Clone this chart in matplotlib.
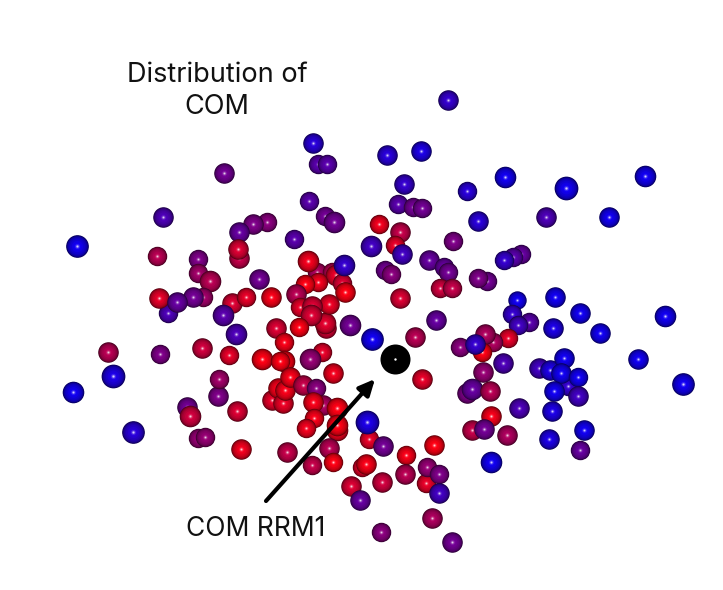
import numpy as np
import matplotlib
matplotlib.use("Agg")
import matplotlib.pyplot as plt
from matplotlib.colors import LinearSegmentedColormap

plt.rcParams['font.family'] = ['Inter', 'DejaVu Sans']

# bead positions (image-like units), listed back to front
bead_x = [448, 313, 387, 421, 318, 327, 224, 404, 467, 505, 566, 645,
          163, 309, 325, 334, 478, 546, 609, 77, 379, 398, 413, 422,
          400, 395, 267, 253, 239, 294, 239, 238, 157, 198, 198, 210, 259,
          385, 391, 371, 402, 453, 429, 444, 448, 521, 513, 504, 487, 478,
          440, 452, 317, 332, 336, 342, 308, 318, 345, 305, 344, 296,
          203, 193, 168, 159, 177, 232, 246, 223, 271, 236,
          326, 325, 329, 300, 312, 311, 299, 276, 350, 284,
          400, 436, 415, 372, 160, 202, 229, 262, 284, 280, 322, 310, 333,
          108, 113, 73, 133, 187, 190, 198, 205, 241, 237, 218, 219,
          272, 278, 283, 285, 290, 303, 316, 323, 313, 337, 314, 306, 337, 337,
          369, 367, 383, 329, 333, 287, 312, 406, 434, 362, 366, 351, 382, 405,
          426, 427, 439, 439, 360, 432, 381, 452, 422,
          529, 517, 512, 518, 555, 580, 600, 553, 508, 493, 485, 460, 482, 475,
          503, 483, 467, 472, 490, 519, 491, 472, 484, 507, 491,
          539, 550, 568, 564, 561, 578, 554, 578, 552, 584, 549, 580,
          638, 665, 683]
bead_y = [100, 143, 155, 151, 164, 164, 173, 184, 191, 177, 188, 176,
          217, 201, 216, 222, 221, 217, 217, 246, 224, 204, 207, 208,
          232, 245, 222, 224, 232, 239, 258, 249, 256, 259, 273, 281, 279,
          270, 274, 246, 254, 241, 260, 267, 272, 254, 257, 260, 281, 278,
          288, 288, 272, 272, 275, 283, 261, 282, 292, 284, 265, 294,
          297, 297, 313, 298, 302, 303, 297, 315, 297, 334,
          328, 323, 304, 307, 306, 315, 327, 328, 325, 342,
          298, 320, 337, 339, 354, 348, 355, 359, 361, 361, 352, 359, 373,
          352, 376, 392, 432, 407, 416, 438, 437, 449, 411, 396, 379,
          400, 388, 403, 390, 377, 385, 388, 405, 402, 430, 418, 428, 408, 425,
          439, 422, 446, 448, 462, 452, 465, 455, 445, 467, 464, 486, 482, 474,
          483, 467, 474, 493, 500, 518, 532, 542, 379,
          322, 300, 314, 325, 297, 313, 333, 328, 338, 342, 334, 347, 352, 344,
          363, 372, 393, 389, 391, 408, 416, 430, 429, 435, 462,
          368, 370, 386, 358, 373, 377, 391, 396, 411, 430, 439, 450,
          359, 316, 384]
# 0 = red end, 1 = blue end
bead_shade = [.85, .9, .9, .95, .7, .7, .6, .85, .9, 1, 1, 1,
              .75, .7, .6, .6, .9, .75, 1, 1, .05, .7, .6, .6,
              .25, .1, .5, .55, .65, .7, .25, .15, .3, .55, .4, .3, .6,
              .6, .5, .8, .8, .55, .65, .65, .6, .65, .7, .85, .6, .55,
              .2, .25, .35, .3, .1, .15, .05, .05, 0, 0, .85, .3,
              .4, .6, .75, .1, .65, .15, .1, .7, .02, .75,
              .15, .12, .08, .1, .15, .15, 0, .15, .6, .02,
              .15, .65, .3, 1, .55, .2, .1, 0, 0, 0, .1, .45, .05,
              .3, .95, 1, .9, .6, .2, .45, .45, .05, .15, .55, .4,
              .1, .03, .08, .03, .02, .25, .5, .35, .03, .05, .03, .05, 0, 0,
              .1, .95, .6, .3, 0, .25, .25, .02, 0, .1, .02, .15, .2, .3,
              .1, .45, .55, .8, .65, .35, .5, .6, .1,
              .7, 1, .85, .8, 1, 1, 1, .95, .1, .35, .35, .5, 0, .85,
              .75, .45, .55, .65, .3, .75, .03, .25, .6, .35, 1,
              .8, .95, .85, 1, 1, 1, 1, .8, .95, 1, .95, .65,
              1, 1, 1]
bead_radius = [9.5, 9.5, 9.5, 9.5, 9, 9, 9.5, 9.5, 9, 10, 11, 10,
               9.5, 9, 9, 10, 9.5, 9.5, 9.5, 10.5, 9, 9, 9, 9,
               9.5, 9, 9, 9.5, 9.5, 9, 9.5, 9.5, 9, 9, 9, 10, 9.5,
               9, 9, 10, 9.5, 9, 9.5, 9, 9, 9, 9, 9, 9, 9,
               9, 9, 9, 9, 10, 9, 10, 9, 9.5, 9, 10, 9.5,
               9, 9.5, 9, 9.5, 9.5, 9.5, 9, 10, 9.5, 10,
               9.5, 10, 9.5, 9, 9.5, 10, 9, 9.5, 10, 9,
               9.5, 9.5, 9.5, 10.5, 9, 9.5, 9, 10, 10, 9, 9, 10, 9.5,
               9.5, 11, 10, 10.5, 9.5, 10, 9, 9, 9.5, 9.5, 9.5, 9,
               9.5, 9.5, 9.5, 9.5, 9.5, 9.5, 9, 9.5, 9.5, 10, 9, 9, 10, 10,
               9, 11, 9.5, 9.5, 9, 9.5, 9, 9, 9.5, 9, 9.5, 9.5, 9.5, 9.5,
               9, 9, 9, 9.5, 9.5, 9.5, 9, 9.5, 9.5,
               9, 8.5, 9, 9, 9.5, 9.5, 9.5, 9.5, 9, 9, 9.5, 9, 9, 9.5,
               9.5, 9.5, 9.5, 10, 9.5, 9.5, 9.5, 9.5, 9.5, 9.5, 10,
               9.5, 9.5, 9, 9.5, 9.5, 9, 9.5, 9.5, 9.5, 9.5, 9.5, 9,
               9.5, 10, 10.5]

center_x = [395]
center_y = [359]
center_radius = 15

cmap = LinearSegmentedColormap.from_list(
    "bead", [(1.0, 0.0, 0.08), (0.55, 0.0, 0.5), (0.07, 0.0, 0.95)])


def draw_sphere(ax, x, y, radius, shade, z):
    color = np.array(cmap(float(shade))[:3])
    radius = radius * 1.08
    # soft dark rim into the full colour, then a small shine in the middle
    fracs = [1.0, 0.94, 0.87, 0.78, 0.66, 0.5, 0.34]
    gains = [0.38, 0.55, 0.68, 0.78, 0.86, 0.94, 1.0]
    for frac, gain in zip(fracs, gains):
        d = 2 * radius * frac * 0.72
        ax.scatter(x, y, s=d ** 2, color=[color * gain], linewidths=0, zorder=z)
    for frac, mix in [(0.22, 0.15), (0.13, 0.45), (0.07, 0.8)]:
        d = 2 * radius * frac * 0.72
        ax.scatter(x, y - 0.5, s=d ** 2, color=[color + (1 - color) * mix], linewidths=0, zorder=z)


fig = plt.figure(figsize=(7.23, 5.9), dpi=100)
ax = fig.add_axes([0, 0, 1, 1])
ax.set_xlim(0, 723)
ax.set_ylim(590, 0)
ax.axis("off")

for i in range(len(bead_x)):
    draw_sphere(ax, bead_x[i], bead_y[i], bead_radius[i], bead_shade[i], 2 + i * 0.01)

# centre of mass bead is plain black with a tiny white spot
ax.scatter(center_x, center_y, s=(2 * center_radius * 0.72) ** 2, color="black", linewidths=0, zorder=5)
ax.scatter(center_x, center_y, s=3, color="white", linewidths=0, zorder=5.1)

ax.annotate("", xy=(375, 379), xytext=(266, 501), zorder=6,
            arrowprops=dict(arrowstyle="-|>,head_length=0.95,head_width=0.45", color="black",
                            lw=3.0, shrinkA=0, shrinkB=0))

ax.text(217, 91, "Distribution of\nCOM", ha="center", va="center", fontsize=19.5,
        linespacing=1.3, color="#111111", zorder=7)
ax.text(256, 529, "COM RRM1", ha="center", va="center", fontsize=19, color="#111111", zorder=7)

fig.savefig("out.png", dpi=100)
